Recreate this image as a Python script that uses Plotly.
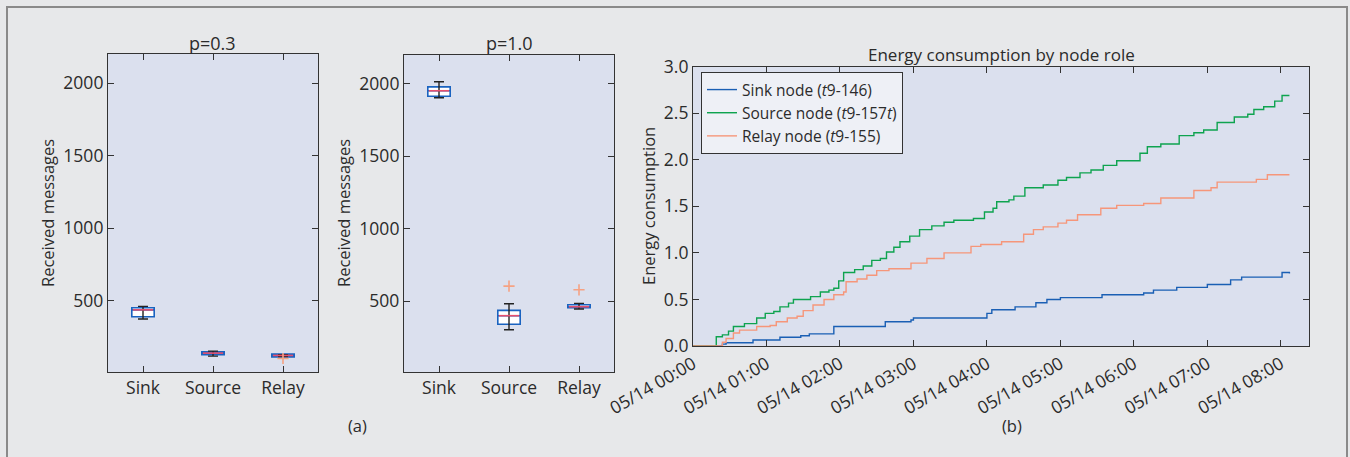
import plotly.graph_objects as go

W, H = 1350, 457

# ---------------- data ----------------
categories = ["Sink", "Source", "Relay"]

# p = 0.3 box statistics
p03_q1 = [390, 130, 114]
p03_med = [438, 140, 124]
p03_q3 = [452, 149, 133]
p03_lo = [375, 119, 117]
p03_hi = [462, 154, 129]
p03_out_x = ["Relay"]
p03_out_y = [103]

# p = 1.0 box statistics
p10_q1 = [1915, 340, 454]
p10_med = [1953, 399, 461]
p10_q3 = [1980, 436, 475]
p10_lo = [1905, 302, 445]
p10_hi = [2015, 481, 484]
p10_out_x = ["Source", "Relay"]
p10_out_y = [603, 578]

# energy consumption (step series): times (HH:MM) and levels
sink_t = ["00:00", "00:23", "00:24", "00:27", "00:49", "01:11", "01:28", "01:35", "01:55",
          "02:37", "02:58", "03:00", "04:00", "04:04", "04:23", "04:40", "04:49", "05:00",
          "05:34", "06:08", "06:16", "06:35", "07:00", "07:19", "07:28", "08:01", "08:07"]
sink_v = [0.00, 0.00, 0.02, 0.035, 0.065, 0.094, 0.11, 0.13, 0.21,
          0.26, 0.28, 0.30, 0.35, 0.39, 0.42, 0.465, 0.50, 0.52,
          0.55, 0.57, 0.60, 0.63, 0.66, 0.71, 0.74, 0.79, 0.78]

source_t = ["00:00", "00:18", "00:19", "00:24", "00:29", "00:33", "00:42", "00:52", "00:59",
            "01:06", "01:11", "01:18", "01:22", "01:36", "01:44", "01:51", "01:55", "01:59",
            "02:03", "02:12", "02:19", "02:26", "02:33", "02:38", "02:44", "02:49", "02:57",
            "03:05", "03:15", "03:25", "03:33", "03:49", "03:58", "04:05", "04:08", "04:18",
            "04:22", "04:31", "04:46", "04:58", "05:05", "05:16", "05:25", "05:35", "05:46",
            "06:05", "06:11", "06:22", "06:37", "06:49", "06:57", "07:08", "07:22", "07:33",
            "07:38", "07:46", "07:55", "08:01", "08:07"]
source_v = [0.00, 0.00, 0.10, 0.12, 0.16, 0.21, 0.24, 0.30, 0.35,
            0.37, 0.42, 0.46, 0.50, 0.53, 0.58, 0.60, 0.62, 0.70,
            0.79, 0.82, 0.86, 0.92, 0.94, 1.01, 1.06, 1.12, 1.18,
            1.25, 1.29, 1.33, 1.35, 1.37, 1.44, 1.48, 1.55, 1.57,
            1.61, 1.70, 1.73, 1.78, 1.81, 1.86, 1.89, 1.94, 1.99,
            2.07, 2.14, 2.17, 2.26, 2.29, 2.32, 2.40, 2.46, 2.49,
            2.54, 2.57, 2.63, 2.69, 2.69]

relay_t = ["00:00", "00:21", "00:24", "00:27", "00:33", "00:38", "00:52", "01:03", "01:08",
           "01:17", "01:25", "01:30", "01:38", "01:47", "01:55", "02:03", "02:05", "02:14",
           "02:22", "02:30", "02:40", "02:58", "03:11", "03:25", "03:47", "03:55", "04:12",
           "04:30", "04:38", "04:46", "04:58", "05:05", "05:14", "05:33", "05:46", "06:08",
           "06:22", "06:49", "07:03", "07:08", "07:40", "07:49", "08:07"]
relay_v = [0.00, 0.00, 0.04, 0.08, 0.14, 0.17, 0.21, 0.22, 0.26,
           0.30, 0.32, 0.38, 0.44, 0.50, 0.55, 0.58, 0.69, 0.72,
           0.76, 0.81, 0.83, 0.89, 0.94, 1.00, 1.07, 1.09, 1.12,
           1.20, 1.25, 1.28, 1.32, 1.35, 1.41, 1.48, 1.51, 1.53,
           1.59, 1.67, 1.70, 1.76, 1.79, 1.84, 1.84]

date_prefix = "2016-05-14 "
x_start, x_end = "00:00", "08:23"
energy_ticks = ["00:00", "01:00", "02:00", "03:00", "04:00", "05:00", "06:00", "07:00", "08:00"]

# ---------------- styles ----------------
FONT = "Open Sans"
TXT = "#2b2b2b"
PLOT_BG = "#dbe0ee"
PAPER_BG = "#e7e8ea"
BOX_BLUE = "#1a63c0"
MED_RED = "#e8506e"
OUT_ORANGE = "#f6a283"
C_SINK = "#1a5fb4"
C_SOURCE = "#0ea34f"
C_RELAY = "#f6967a"
TICK_SIZE = 17.5


def px_x(a, b):
    return [a / W, b / W]


def px_y(top, bottom):
    return [1 - bottom / H, 1 - top / H]


fig = go.Figure()


def add_boxes(xa, ya, q1, med, q3, lo, hi, out_x, out_y):
    fig.add_trace(go.Box(
        x=categories, q1=q1, median=med, q3=q3, lowerfence=q1, upperfence=q3,
        width=0.32, fillcolor="white", line=dict(color=BOX_BLUE, width=1.6),
        boxpoints=False, showlegend=False, xaxis=xa, yaxis=ya, hoverinfo="skip"))
    fig.add_trace(go.Scatter(
        x=categories, y=med, mode="markers",
        marker=dict(size=0.1, color="rgba(0,0,0,0)"),
        error_y=dict(type="data", symmetric=False,
                     array=[h - m for h, m in zip(hi, med)],
                     arrayminus=[m - l for m, l in zip(med, lo)],
                     color="#222222", thickness=1.4, width=5),
        showlegend=False, xaxis=xa, yaxis=ya, hoverinfo="skip"))
    fig.add_trace(go.Scatter(
        x=categories, y=med, mode="markers",
        marker=dict(symbol="line-ew", size=14.5, line=dict(color=MED_RED, width=1.6)),
        showlegend=False, xaxis=xa, yaxis=ya, hoverinfo="skip"))
    fig.add_trace(go.Scatter(
        x=out_x, y=out_y, mode="markers",
        marker=dict(symbol="cross-thin", size=8, line=dict(color=OUT_ORANGE, width=1.6)),
        showlegend=False, xaxis=xa, yaxis=ya, hoverinfo="skip"))


add_boxes("x", "y", p03_q1, p03_med, p03_q3, p03_lo, p03_hi, p03_out_x, p03_out_y)
add_boxes("x2", "y2", p10_q1, p10_med, p10_q3, p10_lo, p10_hi, p10_out_x, p10_out_y)

for name, t, v, c in [
    ("Sink node (<i>t</i>9-146)", sink_t, sink_v, C_SINK),
    ("Source node (<i>t</i>9-157<i>t</i>)", source_t, source_v, C_SOURCE),
    ("Relay node (<i>t</i>9-155)", relay_t, relay_v, C_RELAY),
]:
    fig.add_trace(go.Scatter(
        x=[date_prefix + s for s in t], y=v, mode="lines", name=name,
        line=dict(color=c, width=1.4, shape="hv"), xaxis="x3", yaxis="y3"))

axis_common = dict(
    showline=True, linecolor="#333333", linewidth=1.2, mirror="ticks",
    ticks="inside", ticklen=6, tickcolor="#333333", tickwidth=1.2,
    showgrid=False, zeroline=False, automargin=False,
    tickfont=dict(family=FONT, size=TICK_SIZE, color=TXT),
)

box_x = dict(axis_common, type="category", categoryorder="array",
             categoryarray=categories, range=[-0.5, 2.5])
box_y = dict(axis_common, range=[10, 2200], tickvals=[0, 500, 1000, 1500, 2000])

fig.update_layout(
    width=W, height=H, autosize=False,
    margin=dict(l=0, r=0, t=0, b=0, pad=0, autoexpand=False),
    paper_bgcolor=PAPER_BG, plot_bgcolor=PLOT_BG,
    font=dict(family=FONT, color=TXT),
    xaxis=dict(box_x, domain=px_x(108, 318), anchor="y"),
    yaxis=dict(box_y, domain=px_y(54, 372), anchor="x"),
    xaxis2=dict(box_x, domain=px_x(404, 614), anchor="y2"),
    yaxis2=dict(box_y, domain=px_y(55, 372), anchor="x2"),
    xaxis3=dict(axis_common, type="date", domain=px_x(693, 1309), anchor="y3",
                range=[date_prefix + x_start, date_prefix + x_end],
                tickvals=[date_prefix + s for s in energy_ticks],
                tickformat="%m/%d %H:%M", tickangle=-30),
    yaxis3=dict(axis_common, domain=px_y(66.7, 346), anchor="x3",
                range=[0, 3], dtick=0.5, tickformat=".1f"),
    legend=dict(x=701 / W, y=1 - 72 / H, xanchor="left", yanchor="top",
                bgcolor="#eef0f6", bordercolor="#333333", borderwidth=1,
                font=dict(family=FONT, size=15.5, color=TXT),
                tracegroupgap=0, itemwidth=30),
    showlegend=True,
)

# outer frame
fig.add_shape(type="rect", xref="paper", yref="paper",
              x0=7 / W, x1=1347 / W, y0=-0.1, y1=1 - 7 / H,
              line=dict(color="#8a8a8a", width=2), fillcolor="rgba(0,0,0,0)", layer="below")


def ann(text, x, y, size=16, angle=0):
    fig.add_annotation(text=text, x=x / W, y=1 - y / H, xref="paper", yref="paper",
                       showarrow=False, textangle=angle, xanchor="center", yanchor="middle",
                       font=dict(family=FONT, size=size, color=TXT))


ann("p=0.3", 213, 43, size=18)
ann("p=1.0", 509, 43, size=18)
ann("Energy consumption by node role", 1001, 55, size=17)
ann("Received messages", 47, 213, size=16.5, angle=-90)
ann("Received messages", 343, 213, size=16.5, angle=-90)
ann("Energy consumption", 648, 206, size=16.5, angle=-90)
ann("(a)", 357, 425, size=16.5)
ann("(b)", 1012, 425, size=16.5)

fig.write_html("out.html", config={"responsive": False, "displayModeBar": False},
               post_script="document.body.style.margin='0';")
